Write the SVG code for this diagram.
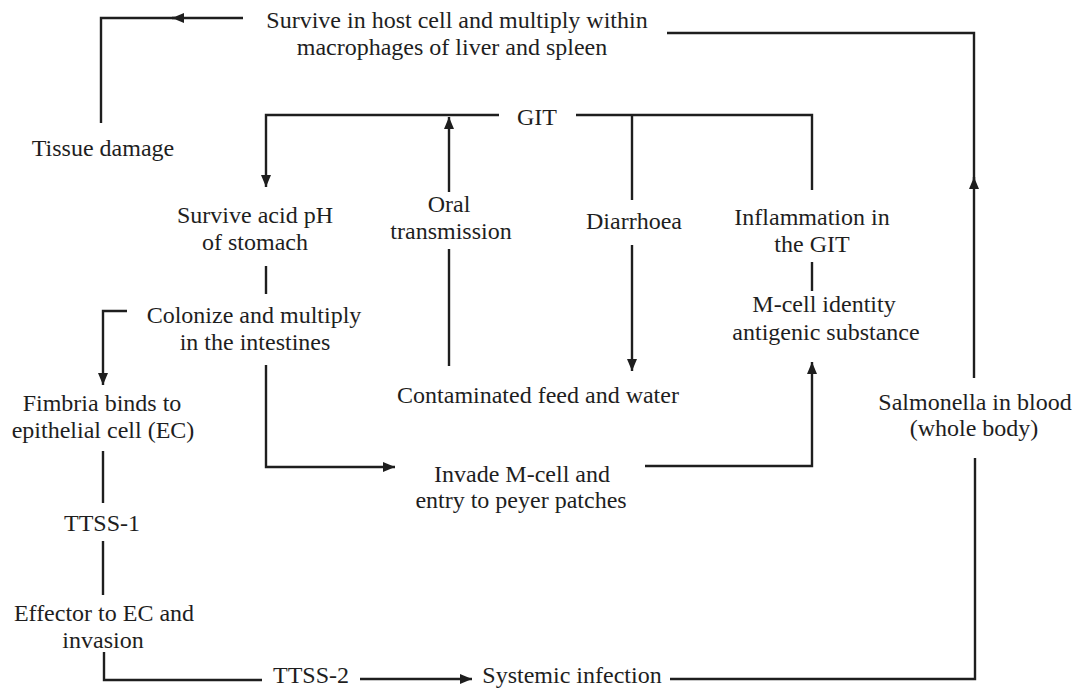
<svg xmlns="http://www.w3.org/2000/svg" width="1076" height="689" viewBox="0 0 1076 689">
<style>
  text { font-family: "Liberation Serif", "Times New Roman", serif; font-size: 24px; fill: #1e1e1e; text-anchor: middle; }
  .c { fill: none; stroke: #1e1e1e; stroke-width: 2.4; }
</style>
<defs>
  <marker id="ah" markerUnits="userSpaceOnUse" markerWidth="14" markerHeight="12" refX="12" refY="5" orient="auto">
    <path d="M0,0 L12,5 L0,10 Z" fill="#1e1e1e"/>
  </marker>
</defs>
<rect width="1076" height="689" fill="#ffffff"/>
<g id="connectors">
  <path class="c" d="M243,18 H172" marker-end="url(#ah)"/>
  <path class="c" d="M175,18 H101 V123"/>
  <path class="c" d="M974,378 V177" marker-end="url(#ah)"/>
  <path class="c" d="M974,180 V33 H667"/>
  <path class="c" d="M499,115 H266 V187" marker-end="url(#ah)"/>
  <path class="c" d="M449,192 V117" marker-end="url(#ah)"/>
  <path class="c" d="M449,249 V366"/>
  <path class="c" d="M576,115 H812 V190"/>
  <path class="c" d="M632,115 V200"/>
  <path class="c" d="M632,245 V371" marker-end="url(#ah)"/>
  <path class="c" d="M812,262 V291"/>
  <path class="c" d="M266,266 V294"/>
  <path class="c" d="M127,311 H103 V385" marker-end="url(#ah)"/>
  <path class="c" d="M266,365 V467 H395" marker-end="url(#ah)"/>
  <path class="c" d="M645,466 H812 V362" marker-end="url(#ah)"/>
  <path class="c" d="M103,451 V503"/>
  <path class="c" d="M103,541 V595"/>
  <path class="c" d="M104,652 V680 H262"/>
  <path class="c" d="M360,679 H472" marker-end="url(#ah)"/>
  <path class="c" d="M670,679 H975 V458"/>
</g>
<g id="node-survive-host"><text x="457" y="28">Survive in host cell and multiply within</text><text x="452" y="55">macrophages of liver and spleen</text></g>
<g id="node-tissue-damage"><text x="103" y="156">Tissue damage</text></g>
<g id="node-git"><text x="537" y="125">GIT</text></g>
<g id="node-survive-acid"><text x="255" y="223">Survive acid pH</text><text x="255" y="250">of stomach</text></g>
<g id="node-oral"><text x="449" y="212">Oral</text><text x="451" y="239">transmission</text></g>
<g id="node-diarrhoea"><text x="634" y="229">Diarrhoea</text></g>
<g id="node-inflammation"><text x="812" y="225">Inflammation in</text><text x="812" y="252">the GIT</text></g>
<g id="node-mcell-identity"><text x="824" y="312">M-cell identity</text><text x="826" y="340">antigenic substance</text></g>
<g id="node-colonize"><text x="254" y="323">Colonize and multiply</text><text x="255" y="350">in the intestines</text></g>
<g id="node-contaminated"><text x="538" y="403">Contaminated feed and water</text></g>
<g id="node-fimbria"><text x="102" y="411">Fimbria binds to</text><text x="103" y="438">epithelial cell (EC)</text></g>
<g id="node-invade"><text x="522" y="482">Invade M-cell and</text><text x="521" y="508">entry to peyer patches</text></g>
<g id="node-salmonella-blood"><text x="975" y="410">Salmonella in blood</text><text x="974" y="436">(whole body)</text></g>
<g id="node-ttss1"><text x="102" y="531">TTSS-1</text></g>
<g id="node-effector"><text x="104" y="621">Effector to EC and</text><text x="103" y="648">invasion</text></g>
<g id="node-ttss2"><text x="311" y="683">TTSS-2</text></g>
<g id="node-systemic"><text x="572" y="683">Systemic infection</text></g>
</svg>
